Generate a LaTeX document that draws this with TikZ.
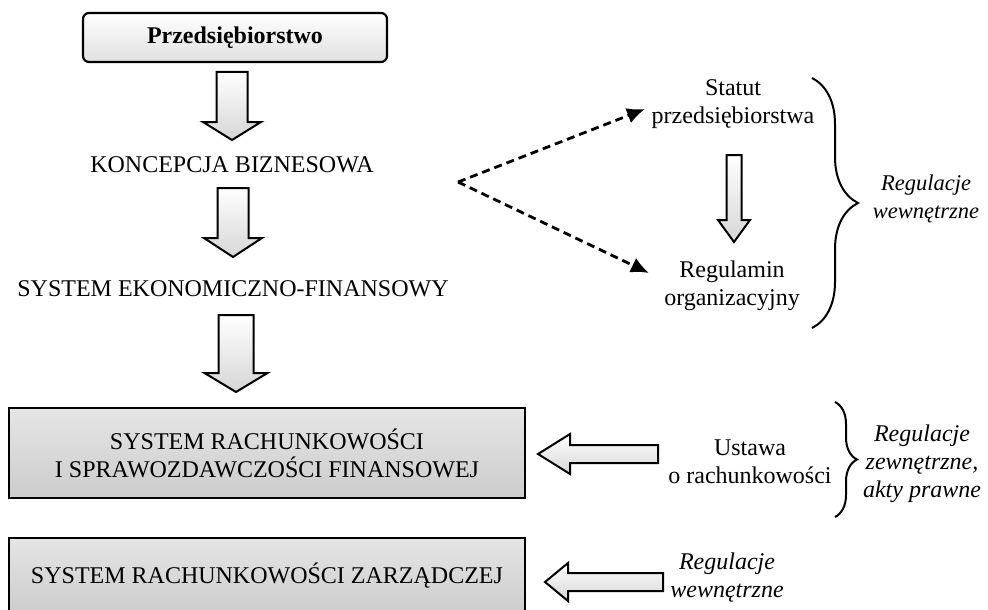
\documentclass[tikz,border=0pt]{standalone}
\usepackage{fontspec}
\setmainfont{Liberation Serif}
\usetikzlibrary{calc,arrows.meta,decorations.pathreplacing}

% hollow block arrow from #1 to #2: shaft half-width #3, head half-width #4, head length #5
\newcommand\blockarr[5]{%
  \coordinate (ba-h) at ($(#2)!#5!(#1)$);
  \draw[blockarrow]
    ($(#1)!#3!90:(#2)$) -- ($(ba-h)!#3!90:(#2)$) -- ($(ba-h)!#4!90:(#2)$) --
    (#2) --
    ($(ba-h)!#4!-90:(#2)$) -- ($(ba-h)!#3!-90:(#2)$) -- ($(#1)!#3!-90:(#2)$) -- cycle;}

\begin{document}
\begin{tikzpicture}[x=1pt,y=-1pt,
  txt/.style={font=\fontsize{24}{28}\selectfont},
  itxt/.style={font=\fontsize{24}{28}\selectfont\itshape},
  every node/.style={txt, inner sep=0pt},
  topbox/.style={draw, line width=2.2pt, rounded corners=6pt,
    minimum width=304pt, minimum height=49pt,
    top color=white, bottom color=black!12},
  sysbox/.style={draw, line width=2.5pt, align=center, minimum width=516pt,
    top color=black!10, bottom color=black!20},
  blockarrow/.style={draw=black, line width=2pt, line join=miter,
    top color=white, bottom color=black!16},
  dasharrow/.style={line width=2.8pt, dash pattern=on 8pt off 5pt,
    -{Latex[length=18pt,width=16pt]}},
  bracket/.style={line width=2pt, decorate}]

\useasboundingbox (0,0) rectangle (988,610);

% main chain
\node[topbox] (firm) at (235,37.5) {\bfseries Przedsiębiorstwo};
\node (concept) at (232,165) {KONCEPCJA BIZNESOWA};
\node (econ) at (233,289) {SYSTEM EKONOMICZNO-FINANSOWY};
\node[sysbox, minimum height=90pt] (fin) at (267,453)
  {SYSTEM RACHUNKOWOŚCI\\I SPRAWOZDAWCZOŚCI FINANSOWEJ};
\node[sysbox, minimum height=76pt] (mgmt) at (267,576)
  {SYSTEM RACHUNKOWOŚCI ZARZĄDCZEJ};

% internal documents
\node[align=center] (statute) at (733,104) {Statut\\przedsiębiorstwa};
\node[align=center] (rules) at (732,286) {Regulamin\\organizacyjny};
\node[itxt, align=center, font=\fontsize{22.5}{28}\selectfont\itshape]
  (intreg1) at (926,199) {Regulacje\\wewnętrzne};

% external regulation
\node[align=center] (act) at (750,462) {Ustawa\\o rachunkowości};
\node[itxt, align=center] (extreg) at (922,464) {Regulacje\\zewnętrzne,\\akty prawne};
\node[itxt, align=center] (intreg2) at (727,578) {Regulacje\\wewnętrzne};

% block arrow end points
\coordinate (a1s) at (232,72);  \coordinate (a1e) at (232,140);
\coordinate (a2s) at (233,188); \coordinate (a2e) at (233,257);
\coordinate (a3s) at (236,315); \coordinate (a3e) at (236,392);
\coordinate (a4s) at (734,155); \coordinate (a4e) at (734,242);
\coordinate (a5s) at (658,454); \coordinate (a5e) at (538,454);
\coordinate (a6s) at (663,582); \coordinate (a6e) at (545,582);

\blockarr{a1s}{a1e}{15.5pt}{29pt}{18pt}
\blockarr{a2s}{a2e}{15.5pt}{29pt}{19pt}
\blockarr{a3s}{a3e}{17.5pt}{31.5pt}{19pt}
\blockarr{a4s}{a4e}{7.5pt}{16pt}{22pt}
\blockarr{a5s}{a5e}{9pt}{20pt}{32pt}
\blockarr{a6s}{a6e}{9pt}{19pt}{23pt}

% dashed links from the business concept
\coordinate (fork) at (458,182);
\coordinate (statute-in) at (645,109);
\coordinate (rules-in) at (649,273);
\draw[dasharrow] (fork) -- (statute-in);
\draw[dasharrow] (fork) -- (rules-in);

% braces
\coordinate (br1t) at (812,78);  \coordinate (br1b) at (812,328);
\coordinate (br2t) at (835,402); \coordinate (br2b) at (835,517);
\draw[bracket, decoration={brace, amplitude=46pt}] (br1t) -- (br1b);
\draw[bracket, decoration={brace, amplitude=22pt}] (br2t) -- (br2b);

\end{tikzpicture}
\end{document}
